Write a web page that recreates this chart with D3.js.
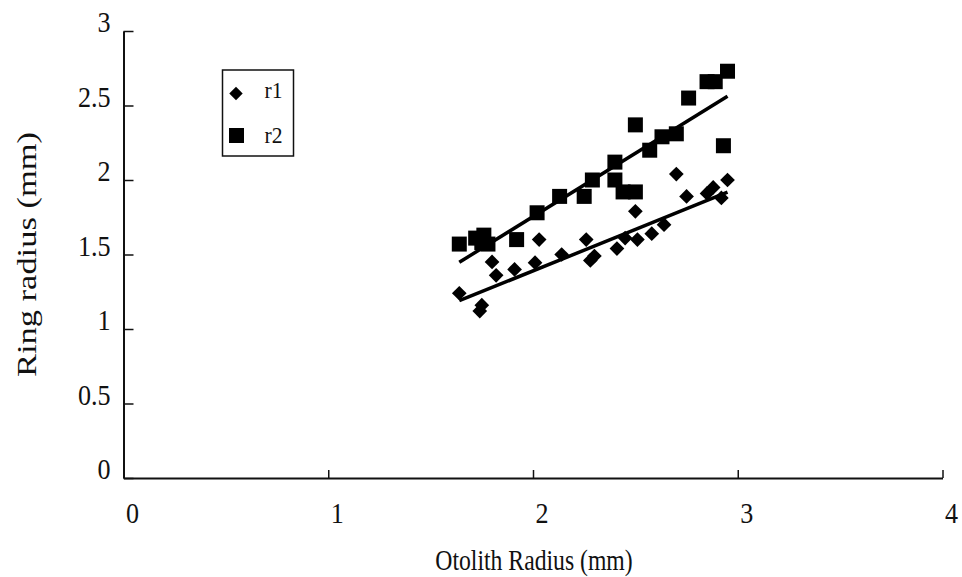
<!DOCTYPE html>
<html>
<head>
<meta charset="utf-8">
<script src="https://cdn.jsdelivr.net/npm/d3@7"></script>
<style>
  body { margin: 0; background: #fff; }
  text { font-family: "Liberation Serif", "Times New Roman", serif; fill: #111; }
</style>
</head>
<body>
<div id="chart"></div>
<script>
// data
const r1X = [1.64, 1.74, 1.75, 1.80, 1.82, 1.91, 2.01, 2.03, 2.14, 2.26, 2.28, 2.30, 2.41, 2.45, 2.50, 2.51, 2.58, 2.64, 2.70, 2.75, 2.85, 2.88, 2.92, 2.95];
const r1Y = [1.24, 1.12, 1.16, 1.45, 1.36, 1.40, 1.445, 1.60, 1.50, 1.60, 1.46, 1.49, 1.54, 1.61, 1.79, 1.60, 1.64, 1.70, 2.04, 1.89, 1.91, 1.95, 1.88, 2.00];
const r2X = [1.64, 1.72, 1.75, 1.76, 1.78, 1.92, 2.02, 2.13, 2.25, 2.29, 2.40, 2.40, 2.44, 2.50, 2.50, 2.57, 2.63, 2.70, 2.76, 2.85, 2.89, 2.95, 2.93];
const r2Y = [1.57, 1.61, 1.58, 1.63, 1.57, 1.60, 1.78, 1.89, 1.89, 2.00, 2.00, 2.12, 1.92, 1.92, 2.37, 2.20, 2.29, 2.31, 2.55, 2.66, 2.66, 2.73, 2.23];
// trend lines: [intercept, slope]
const r1Trend = [0.278, 0.556];
const r2Trend = [0.052, 0.851];
const xTicks = [0, 1, 2, 3, 4];
const yTicks = [0, 0.5, 1, 1.5, 2, 2.5, 3];

const margin = { top: 31, right: 20, bottom: 99, left: 123.5 },
    width = 942.5 - margin.left,
    height = 478 - margin.top;

const svg = d3.select("#chart")
    .append("svg")
    .attr("width", 962)
    .attr("height", 577)
    .append("g")
    .attr("transform", `translate(${margin.left},${margin.top})`);

const x = d3.scaleLinear().domain([0, 4]).range([0, width]);
const y = d3.scaleLinear().domain([0, 3]).range([height, 0]);

// axes, ticks pointing inward, labels drawn separately
svg.append("g")
    .attr("transform", `translate(0,${height})`)
    .call(d3.axisBottom(x).tickValues(xTicks).tickSizeInner(-8).tickSizeOuter(0).tickFormat(""));
svg.append("g")
    .call(d3.axisLeft(y).tickValues(yTicks).tickSizeInner(-10).tickSizeOuter(0).tickFormat(""));

svg.selectAll(".domain").attr("stroke", "#111").attr("stroke-width", 2);
svg.selectAll(".tick line").attr("stroke", "#111").attr("stroke-width", 1.5);

// tick labels (the scan is stretched vertically)
svg.selectAll(".xlab")
    .data(xTicks)
    .join("text")
    .attr("text-anchor", "middle")
    .attr("transform", d => `translate(${x(d) + 9},${height + 45}) scale(0.9,1)`)
    .style("font-size", "29px")
    .text(d => d);

svg.selectAll(".ylab")
    .data(yTicks)
    .join("text")
    .attr("text-anchor", "end")
    .attr("transform", d => `translate(${-13},${y(d) + 1}) scale(0.9,1)`)
    .style("font-size", "29px")
    .text(d => d);

// axis titles
svg.append("text")
    .attr("text-anchor", "middle")
    .attr("transform", `translate(${x(2) + 1},${height + 92}) scale(0.79,1)`)
    .style("font-size", "30px")
    .text("Otolith Radius (mm)");

svg.append("text")
    .attr("text-anchor", "middle")
    .attr("transform", `translate(${-88},${y(1.5)}) rotate(-90) scale(1.15,0.88)`)
    .style("font-size", "30px")
    .text("Ring radius (mm)");

// trend lines
[[r1X, r1Trend], [r2X, r2Trend]].forEach(([xs, t]) => {
    const lo = d3.min(xs), hi = d3.max(xs);
    svg.append("line")
        .attr("x1", x(lo)).attr("y1", y(t[0] + t[1] * lo))
        .attr("x2", x(hi)).attr("y2", y(t[0] + t[1] * hi))
        .attr("stroke", "#000").attr("stroke-width", 3.5);
});

// markers
const diamond = d3.symbol().type(d3.symbolSquare).size(108);
svg.selectAll(".r1")
    .data(r1X.map((v, i) => [v, r1Y[i]]))
    .join("path")
    .attr("d", diamond)
    .attr("transform", d => `translate(${x(d[0])},${y(d[1])}) rotate(45)`)
    .attr("fill", "#000");

svg.selectAll(".r2")
    .data(r2X.map((v, i) => [v, r2Y[i]]))
    .join("rect")
    .attr("x", d => x(d[0]) - 7.5)
    .attr("y", d => y(d[1]) - 7.5)
    .attr("width", 15)
    .attr("height", 15)
    .attr("fill", "#000");

// legend
const lg = svg.append("g").attr("transform", `translate(${222.5 - margin.left},${70 - margin.top})`);
lg.append("rect")
    .attr("width", 71).attr("height", 86)
    .attr("fill", "none").attr("stroke", "#111").attr("stroke-width", 1.5);
lg.append("path")
    .attr("d", d3.symbol().type(d3.symbolSquare).size(90))
    .attr("transform", "translate(13.5,23.5) rotate(45)")
    .attr("fill", "#000");
lg.append("rect").attr("x", 6.5).attr("y", 58).attr("width", 15).attr("height", 15).attr("fill", "#000");
lg.append("text").attr("transform", "translate(42,28) scale(0.9,1)").style("font-size", "24px").text("r1");
lg.append("text").attr("transform", "translate(42,73) scale(0.9,1)").style("font-size", "24px").text("r2");
</script>
</body>
</html>
